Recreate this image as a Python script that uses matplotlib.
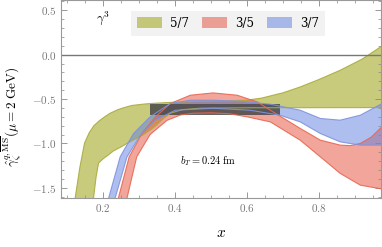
import matplotlib
matplotlib.use('Agg')
import matplotlib.pyplot as plt
import numpy as np
from matplotlib.ticker import MultipleLocator, FuncFormatter
from matplotlib.patches import Patch

plt.rcParams['mathtext.fontset'] = 'cm'
plt.rcParams['font.family'] = 'serif'
plt.rcParams['font.serif'] = ['DejaVu Serif']

labels = ['5/7', '3/5', '3/7']

# 5/7 band (olive)
x57_up = [0.110, 0.123, 0.136, 0.149, 0.162, 0.175, 0.190, 0.205, 0.220, 0.240, 0.260, 0.281, 0.313, 0.331,
          0.359, 0.387, 0.470, 0.550, 0.600, 0.640, 0.700, 0.748, 0.800, 0.859, 0.920, 0.975]
y57_up = [-1.75, -1.615, -1.27, -0.997, -0.88, -0.80, -0.745, -0.700, -0.660, -0.622, -0.595, -0.572, -0.557,
          -0.551, -0.544, -0.538, -0.525, -0.520, -0.512, -0.490, -0.430, -0.364, -0.280, -0.176, -0.050, 0.097]
x57_lo = [0.165, 0.174, 0.181, 0.188, 0.200, 0.215, 0.229, 0.250, 0.267, 0.290, 0.313, 0.331, 0.350, 0.368,
          0.387, 0.420, 0.470, 0.609, 0.800, 0.975]
y57_lo = [-1.75, -1.615, -1.38, -1.221, -1.175, -1.13, -1.085, -1.04, -1.00, -0.95, -0.900, -0.850, -0.790,
          -0.720, -0.660, -0.620, -0.603, -0.598, -0.597, -0.596]

# 3/5 band (red)
x35_up = [0.238, 0.243, 0.273, 0.309, 0.345, 0.387, 0.443, 0.506, 0.573, 0.629, 0.665, 0.748, 0.804, 0.859,
          0.887, 0.915, 0.945, 0.975]
y35_up = [-1.70, -1.615, -1.151, -0.884, -0.704, -0.551, -0.457, -0.431, -0.457, -0.533, -0.626, -0.831, -0.963,
          -1.019, -1.025, -1.00, -0.93, -0.813]
x35_lo = [0.262, 0.267, 0.294, 0.331, 0.378, 0.415, 0.450, 0.500, 0.550, 0.600, 0.665, 0.748, 0.804, 0.859,
          0.915, 0.975]
y35_lo = [-1.70, -1.615, -1.151, -0.900, -0.740, -0.680, -0.660, -0.655, -0.665, -0.700, -0.757, -0.963, -1.151,
          -1.337, -1.470, -1.513]

# 3/7 band (blue)
x37_up = [0.211, 0.216, 0.248, 0.285, 0.331, 0.387, 0.443, 0.506, 0.581, 0.665, 0.748, 0.804, 0.859, 0.915,
          0.975]
y37_up = [-1.70, -1.615, -1.151, -0.888, -0.701, -0.551, -0.513, -0.513, -0.525, -0.558, -0.626, -0.719, -0.738,
          -0.682, -0.551]
x37_lo = [0.229, 0.234, 0.267, 0.304, 0.345, 0.401, 0.506, 0.609, 0.692, 0.748, 0.804, 0.859, 0.915, 0.975]
y37_lo = [-1.70, -1.615, -1.151, -0.907, -0.738, -0.626, -0.603, -0.626, -0.682, -0.757, -0.888, -0.982, -1.019,
          -1.019]

# averaged result (gray bar)
avg_x = [0.331, 0.691]
avg_val = -0.620
avg_err = 0.062

fig = plt.figure(figsize=(3.82, 2.47), dpi=100)
ax = fig.add_axes([0.160, 0.200, 0.837, 0.798])

bands = [
    (x57_up, y57_up, x57_lo, y57_lo, (0.70, 0.71, 0.27), '#a9ab3c', 0.70),
    (x35_up, y35_up, x35_lo, y35_lo, (0.90, 0.30, 0.22), '#e8674f', 0.50),
    (x37_up, y37_up, x37_lo, y37_lo, (0.37, 0.50, 0.88), '#7f92dd', 0.50),
]
handles = []
for (xu, yu, xl, yl, face, edge, alpha), lab in zip(bands, labels):
    xu = np.asarray(xu); yu = np.asarray(yu); xl = np.asarray(xl); yl = np.asarray(yl)
    ax.fill(np.r_[xu, xl[::-1]], np.r_[yu, yl[::-1]], facecolor=face, alpha=alpha, edgecolor='none')
    ax.plot(xu, yu, color=edge, lw=0.8, alpha=0.9)
    ax.plot(xl, yl, color=edge, lw=0.8, alpha=0.9)
    handles.append(Patch(facecolor=face, alpha=alpha, edgecolor='none', label=lab))

ax.fill_between(avg_x, avg_val - avg_err, avg_val + avg_err, color='#4a4a4a', alpha=0.85, lw=0)
ax.axhline(0.0, color='#777777', lw=1.0)

ax.set_xlim(0.084, 0.972)
ax.set_ylim(-1.61, 0.61)
ax.xaxis.set_major_locator(MultipleLocator(0.2))
ax.xaxis.set_minor_locator(MultipleLocator(0.05))
ax.yaxis.set_major_locator(MultipleLocator(0.5))
ax.yaxis.set_minor_locator(MultipleLocator(0.1))
fmt = FuncFormatter(lambda v, p: f"${v:.1f}$")
ax.xaxis.set_major_formatter(fmt)
ax.yaxis.set_major_formatter(fmt)
ax.tick_params(which='both', direction='in', top=True, right=True, colors='#888888',
               labelcolor='#777777', labelsize=8)
ax.tick_params(which='major', length=4, width=0.6)
ax.tick_params(which='minor', length=2, width=0.5)
for s in ax.spines.values():
    s.set_color('#999999')
    s.set_linewidth(0.8)

ax.set_xlabel('$x$', fontsize=11, labelpad=8)
ax.set_ylabel(r'$\hat{\gamma}_\zeta^{q,\overline{\rm MS}}(\mu = 2\ {\rm GeV})$', fontsize=9.5)
ax.yaxis.set_label_coords(-0.115, 0.41)

ax.text(0.415, -1.20, r'$b_T = 0.24\ {\rm fm}$', fontsize=7.5, va='center', ha='left')
ax.text(0.131, 0.91, r'$\gamma^3$', transform=ax.transAxes, fontsize=9.5, ha='center', va='center')

leg = ax.legend(handles=handles, ncol=3, loc='upper left', bbox_to_anchor=(0.200, 0.978),
                frameon=True, fancybox=False, fontsize=8.5, handlelength=2.1, handleheight=1.1,
                columnspacing=1.1, handletextpad=0.7, borderpad=0.5)
leg.get_frame().set_facecolor('#f2f2f2')
leg.get_frame().set_edgecolor('none')
leg.get_frame().set_alpha(1)

fig.savefig('out.png', dpi=100)
